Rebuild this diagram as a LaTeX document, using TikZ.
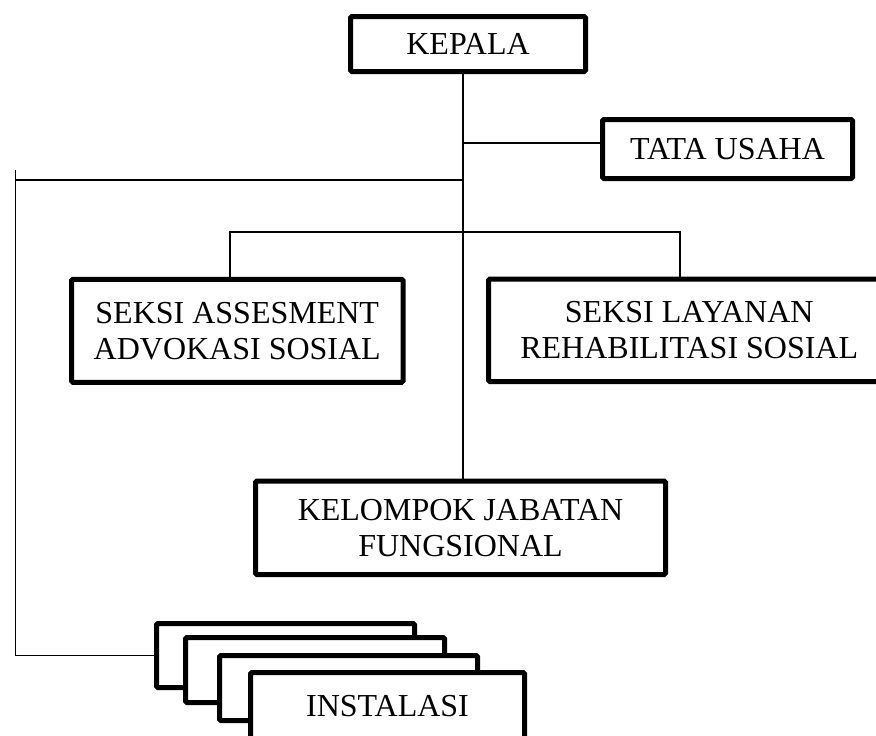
\documentclass[tikz,border=0pt]{standalone}
\usepackage{fontspec}
\setmainfont{Liberation Serif}
\begin{document}
\begin{tikzpicture}[x=1pt,y=-1pt,
  box/.style={draw=black, line width=5pt, rounded corners=1.5pt, fill=white, inner sep=0pt, align=center, font=\fontsize{32}{36}\selectfont},
  conn/.style={draw=black, line width=1.5pt}]
\useasboundingbox (0,0) rectangle (876,736);
\clip (0,0) rectangle (876,736);

\node[box, minimum width=235, minimum height=55] (kepala) at (468,44) {KEPALA};
\node[box, minimum width=250, minimum height=59] (tata) at (727.5,149) {TATA USAHA};
\node[box, minimum width=331.5, minimum height=103] (ass) at (237.25,330.75) {SEKSI ASSESMENT\\ADVOKASI SOSIAL};
\node[box, minimum width=401.5, minimum height=102.5] (lay) at (689.25,330.25) {SEKSI LAYANAN\\REHABILITASI SOSIAL};
\node[box, minimum width=410, minimum height=93.5] (kel) at (460.5,527.75) {KELOMPOK JABATAN\\FUNGSIONAL};

\node[box, minimum width=258, minimum height=64] (i1) at (285.5,655.5) {};
\node[box, minimum width=259, minimum height=65] (i2) at (315,670) {};
\node[box, minimum width=258, minimum height=65] (i3) at (348.5,688) {};
\node[box, minimum width=274, minimum height=67.5] (i4) at (387.5,706.25) {INSTALASI};

\coordinate (trunk) at (463,0);
\coordinate (hl) at (15.5,180);
\coordinate (lt) at (15.5,170);
\coordinate (b1) at (230,232);
\coordinate (b2) at (680,232);

\draw[conn] (kepala.south -| trunk) -- (kel.north -| trunk);
\draw[conn] ([yshift=6pt]tata.west) -- ([yshift=6pt]tata.west -| trunk);
\draw[conn] (hl) -- (hl -| trunk);
\draw[conn] (lt) |- (i1.west);
\draw[conn] (b1 |- ass.north) -- (b1) -- (b2) -- (b2 |- lay.north);
\end{tikzpicture}
\end{document}
